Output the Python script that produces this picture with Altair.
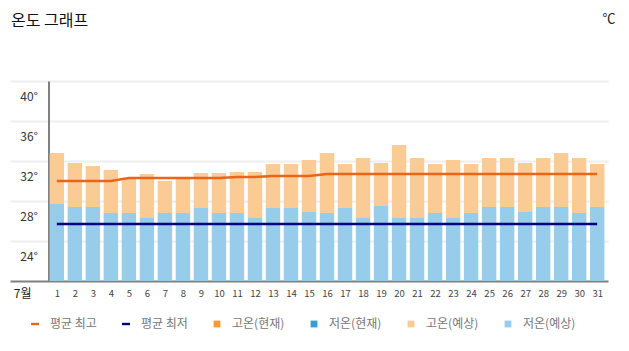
import altair as alt
import pandas as pd

# ---- data ----
days = list(range(1, 32))
high_forecast = [32.8, 31.8, 31.5, 31.1, 30.3, 30.7, 30.0, 30.4, 30.8, 30.8,
                 30.9, 30.9, 31.7, 31.7, 32.1, 32.8, 31.7, 32.3, 31.8, 33.6,
                 32.3, 31.7, 32.1, 31.7, 32.3, 32.3, 31.8, 32.3, 32.8, 32.3, 31.7]
low_forecast = [27.7, 27.4, 27.4, 26.8, 26.8, 26.3, 26.8, 26.8, 27.3, 26.8,
                26.8, 26.3, 27.3, 27.3, 26.9, 26.8, 27.3, 26.3, 27.5, 26.3,
                26.3, 26.8, 26.3, 26.8, 27.4, 27.4, 26.9, 27.4, 27.4, 26.8, 27.4]
avg_high = [30.0, 30.0, 30.0, 30.0, 30.3, 30.3, 30.3, 30.3, 30.3, 30.3,
            30.4, 30.4, 30.5, 30.5, 30.5, 30.7, 30.7, 30.7, 30.7, 30.7,
            30.7, 30.7, 30.7, 30.7, 30.7, 30.7, 30.7, 30.7, 30.7, 30.7, 30.7]
avg_low = [25.7, 25.7, 25.7, 25.7, 25.7, 25.7, 25.7, 25.7, 25.7, 25.7,
           25.7, 25.7, 25.7, 25.7, 25.7, 25.7, 25.7, 25.7, 25.7, 25.7,
           25.7, 25.7, 25.7, 25.7, 25.7, 25.7, 25.7, 25.7, 25.7, 25.7, 25.7]
y_ticks = [24, 28, 32, 36, 40]
month_label = "7월"
series_names = ["평균 최고", "평균 최저", "고온(현재)", "저온(현재)", "고온(예상)", "저온(예상)"]
series_colors = ["#E8651A", "#00007F", "#F59A3B", "#2E9FD8", "#FACB95", "#97CDEA"]
title_text = "온도 그래프"
unit_text = "℃"

FONT = "Noto Sans CJK KR"
DASH = "M-1,-0.3H1V0.3H-1Z"
SQUARE = "M-0.85,-0.85H0.85V0.85H-0.85Z"
series_shapes = [DASH, DASH, SQUARE, SQUARE, SQUARE, SQUARE]

df = pd.DataFrame({"day": days, "high": high_forecast, "low": low_forecast,
                   "avg_high": avg_high, "avg_low": avg_low})

x_scale = alt.Scale(domain=[-1.6, 31.6], nice=False, zero=False)
y_scale = alt.Scale(domain=[20, 40], nice=False, zero=False)

x_axis = alt.Axis(
    values=[-0.93] + days,
    labelExpr=f"datum.value < 0 ? '{month_label}' : datum.label",
    labelFontSize={"condition": {"test": "datum.value < 0", "value": 12}, "value": 9.5},
    labelColor={"condition": {"test": "datum.value < 0", "value": "#222222"}, "value": "#444444"},
    labelFont=FONT, labelPadding=7, labelOverlap=False, labelFlush=False,
    ticks=False, tickSize=0, grid=False,
    domainColor="#808080", domainWidth=2, title=None,
)
y_axis = alt.Axis(
    values=y_ticks, labelExpr="datum.value + '°'",
    labelFont=FONT, labelFontSize=12, labelColor="#333333",
    labelPadding=11, labelOffset=15, offset=-38.5,
    ticks=False, tickSize=0,
    grid=True, gridColor="#EEEEEE", gridWidth=2,
    domainColor="#808080", domainWidth=2, title=None,
)

base = alt.Chart(df).transform_calculate(
    x0="datum.day - 0.4", x1="datum.day + 0.4"
)

low_bars = base.mark_bar(color=series_colors[5]).encode(
    x=alt.X("x0:Q", scale=x_scale, axis=x_axis, title=None),
    x2="x1:Q",
    y=alt.Y("low:Q", scale=y_scale, axis=y_axis, title=None),
    y2=alt.datum(20),
)
high_bars = base.mark_bar(color=series_colors[4]).encode(
    x=alt.X("x0:Q", scale=x_scale, axis=x_axis, title=None),
    x2="x1:Q",
    y=alt.Y("high:Q", scale=y_scale, axis=y_axis, title=None),
    y2="low:Q",
)
line_high = base.mark_line(color=series_colors[0], strokeWidth=2.5).encode(
    x=alt.X("day:Q", scale=x_scale, axis=x_axis, title=None),
    y=alt.Y("avg_high:Q", scale=y_scale, axis=y_axis, title=None),
)
line_low = base.mark_line(color=series_colors[1], strokeWidth=2.5).encode(
    x=alt.X("day:Q", scale=x_scale, axis=x_axis, title=None),
    y=alt.Y("avg_low:Q", scale=y_scale, axis=y_axis, title=None),
)

legend = alt.Legend(
    title=None, orient="none", direction="horizontal", columns=6,
    legendX=19, legendY=237, padding=0,
    symbolSize=64, symbolStrokeWidth=0, symbolOpacity=1,
    labelFont=FONT, labelFontSize=12, labelColor="#777777",
    labelOffset=9, columnPadding=23, labelLimit=200,
)
legend_layer = alt.Chart(pd.DataFrame({"series": series_names})).mark_point(
    filled=True, opacity=0
).encode(
    color=alt.Color("series:N", scale=alt.Scale(domain=series_names, range=series_colors),
                    legend=legend),
    shape=alt.Shape("series:N", scale=alt.Scale(domain=series_names, range=series_shapes),
                    legend=legend),
)

title_layer = alt.Chart(pd.DataFrame({"t": [title_text]})).mark_text(
    font=FONT, fontSize=16, color="#111111", align="left", baseline="middle"
).encode(text="t:N", x=alt.value(1), y=alt.value(-60))

unit_layer = alt.Chart(pd.DataFrame({"t": [unit_text]})).mark_text(
    font=FONT, fontSize=13, color="#222222", align="center", baseline="middle"
).encode(text="t:N", x=alt.value(599), y=alt.value(-62))

chart = alt.layer(low_bars, high_bars, line_high, line_low, legend_layer,
                  title_layer, unit_layer).properties(
    width=598, height=200,
    padding={"left": 10, "top": 81, "right": 21, "bottom": 70},
    autosize=alt.AutoSizeParams(type="none"),
).configure_view(stroke=None)

chart.save("out.html", embed_options={"renderer": "svg", "actions": False})
